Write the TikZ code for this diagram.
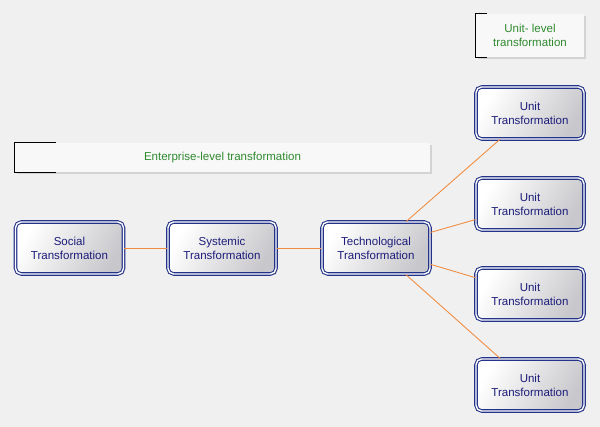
\documentclass[tikz,border=0pt]{standalone}
\usepackage{fontspec}
\setmainfont{Liberation Sans}
\usepackage{tikz}
\usetikzlibrary{shadows, calc}
\definecolor{cnavy}{HTML}{24338A}
\definecolor{ctext}{HTML}{1C1C7A}
\definecolor{cgreen}{HTML}{2E8A2E}
\definecolor{corange}{HTML}{F08A3C}
\definecolor{cshade}{HTML}{C8C8CC}
\definecolor{cback}{HTML}{F0F0F0}
\definecolor{cpaper}{HTML}{F8F8F8}

\begin{document}
\begin{tikzpicture}[
  every node/.style={font=\fontsize{8.2}{10}\selectfont},
  unitbox/.style={
    rectangle, rounded corners=4pt, align=center, text=ctext,
    minimum width=2.7cm, minimum height=1.3cm,
    draw=cnavy, line width=0.75pt, double=white, double distance=1pt,
    left color=white, right color=cshade, shading angle=60,
    drop shadow={opacity=0.25, shadow xshift=1.2pt, shadow yshift=-1.2pt}
  },
  labelbox/.style={
    rectangle, align=center, text=cgreen, fill=cpaper,
    drop shadow={opacity=0.25, shadow xshift=1.2pt, shadow yshift=-1.2pt}
  },
  bracket/.style={draw=black, line width=0.6pt},
  link/.style={draw=corange, line width=0.6pt}
]

% background and fixed size
\fill[cback] (0, 0) rectangle (15, 10.675);
\useasboundingbox (0, 0) rectangle (15, 10.675);

% ============================================================
% Labels
% ============================================================
\node[labelbox, minimum width=10.375cm, minimum height=0.725cm]
  (enterprise) at (5.5625, 6.7375) {Enterprise-level transformation};
\draw[bracket] ($(enterprise.north west)+(1.025,0)$) -- (enterprise.north west)
  -- (enterprise.south west) -- ++(1.025, 0);

\node[labelbox, minimum width=2.7cm, minimum height=1.075cm]
  (unitlevel) at (13.25, 9.7875) {Unit- level\\transformation};
\draw[bracket] ($(unitlevel.north west)+(0.275,0)$) -- (unitlevel.north west)
  -- (unitlevel.south west) -- ++(0.275, 0);

% ============================================================
% Enterprise chain
% ============================================================
\node[unitbox] (social) at (1.7375, 4.475) {Social\\Transformation};
\node[unitbox] (systemic) at (5.55, 4.475) {Systemic\\Transformation};
\node[unitbox] (techno) at (9.4, 4.475) {Technological\\Transformation};

\draw[link] (social) -- (systemic);
\draw[link] (systemic) -- (techno);

% Four unit boxes
\foreach \i/\y in {1/7.85, 2/5.575, 3/3.325, 4/1.05} {
  \node[unitbox] (unit\i) at (13.25, \y) {Unit\\Transformation};
  \draw[link] (techno) -- (unit\i);
}

\end{tikzpicture}
\end{document}
